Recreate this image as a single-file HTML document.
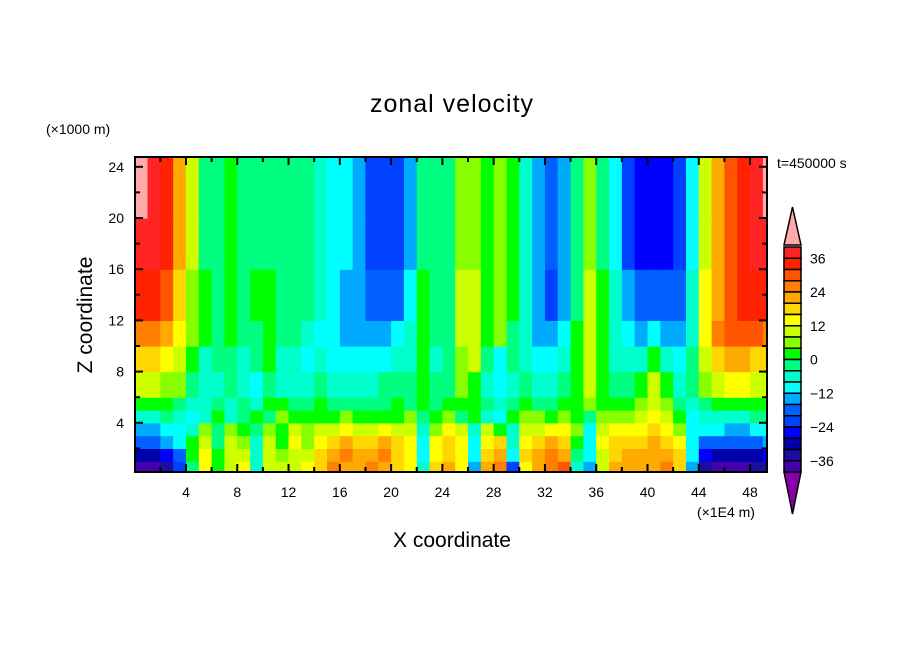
<!DOCTYPE html>
<html><head><meta charset="utf-8"><style>
body{margin:0;background:#fff}
svg text{font-family:"Liberation Sans",sans-serif;fill:#000}
</style></head><body>
<svg id="chart" width="904" height="654" viewBox="0 0 904 654" xmlns="http://www.w3.org/2000/svg">
<rect width="904" height="654" fill="#fff"/>
<defs><clipPath id="plotclip"><rect x="135" y="157" width="632" height="315"/></clipPath></defs>
<text x="452" y="112" font-size="25" text-anchor="middle" letter-spacing="1">zonal velocity</text>
<text x="46" y="134" font-size="14">(×1000 m)</text>
<text x="0" y="0" font-size="21" text-anchor="middle" transform="translate(92,315) rotate(-90)">Z coordinate</text>
<text x="452" y="547" font-size="21" text-anchor="middle">X coordinate</text>
<text x="697" y="517" font-size="14">(×1E4 m)</text>
<text x="777" y="168" font-size="14">t=450000 s</text>
<g id="cells" clip-path="url(#plotclip)"></g>
<g id="axes"></g>
<g id="cbar"></g>
</svg>
<script>
const zBounds = [0,1,2,3,4,5,6,8,10,12,16,20,25];
const row0 = [-38,-38,-34,-22,-2,14,2,10,14,-6,10,10,10,14,18,26,22,22,26,22,18,14,-6,18,22,14,-14,22,26,-22,14,22,26,30,-6,-14,10,22,22,22,22,26,18,-14,-34,-38,-38,-38,-34,-34];
const row1 = [-30,-30,-26,-18,2,14,2,10,10,-6,10,6,10,10,18,22,26,22,22,26,18,14,-10,14,18,14,-10,18,22,-10,18,22,26,22,-2,-10,10,18,22,22,22,22,18,-10,-26,-30,-30,-30,-30,-26];
const row2 = [-18,-18,-14,-10,2,10,-2,10,6,-6,10,2,14,6,14,18,22,18,18,22,18,14,-10,14,18,14,-10,14,18,-6,14,18,22,18,2,-10,14,18,18,18,22,18,14,-10,-18,-18,-18,-18,-18,-14];
const row3 = [-14,-14,-10,-10,-6,6,-2,6,2,-2,6,2,10,6,10,10,14,10,10,14,10,10,-6,6,14,10,-6,10,2,-6,10,10,14,14,6,-10,10,14,14,14,18,14,6,-10,-10,-10,-14,-14,-10,-10];
const row4 = [-6,-6,-2,-6,-10,-6,2,-6,-2,2,-2,6,2,2,2,2,6,2,2,2,2,6,-2,2,6,-2,2,-6,-10,2,6,6,2,6,2,-2,6,6,6,10,14,10,2,-10,-6,-6,-6,-6,-2,-2];
const row5 = [2,2,2,-2,-6,-6,-2,-6,-2,-6,2,2,-2,-2,2,-2,-2,-2,-2,-2,2,-2,2,-2,2,2,2,-2,-6,-2,2,-2,-2,2,2,6,2,2,2,6,10,6,-2,-6,-2,2,2,2,2,2];
const row6 = [10,10,6,6,-2,-6,-6,-2,-6,-10,-2,-6,-6,-6,-2,-6,-6,-6,-6,-2,-2,-2,2,-2,-2,6,2,-6,-10,-6,-2,-6,-6,-2,2,10,2,-2,-2,2,10,2,-6,-2,6,10,14,14,10,10];
const row7 = [18,18,14,10,2,-6,-2,-2,-6,-2,2,-6,-6,-10,-6,-10,-10,-10,-10,-10,-6,-6,2,-6,-2,6,10,-2,-10,-2,-6,-10,-10,-6,2,10,2,-6,-6,-6,2,-6,-10,-2,10,18,22,22,18,18];
const row8 = [26,26,22,14,6,2,-2,2,-2,-2,2,-2,-2,-6,-10,-10,-14,-14,-14,-14,-10,-6,2,-2,-2,10,10,2,6,-2,-6,-14,-14,-10,2,10,2,-6,-10,-14,-10,-14,-14,-6,14,26,30,30,30,26];
const row9 = [34,34,30,18,6,2,-2,2,-2,2,2,-2,-2,-2,-6,-10,-14,-14,-18,-18,-18,-10,2,-2,-2,10,10,2,6,2,-6,-14,-22,-14,-2,10,2,-6,-14,-18,-18,-18,-18,-6,14,22,30,34,34,34];
const row10 = [38,38,34,22,10,-2,-2,2,-2,-2,-2,-2,-2,-2,-6,-10,-10,-14,-22,-22,-22,-14,-2,-2,-2,6,6,2,6,2,-6,-14,-18,-14,-2,6,-2,-10,-22,-26,-26,-26,-22,-10,10,22,30,34,38,38];
const row11 = [42,38,34,22,10,-2,-2,2,-2,-2,-2,-2,-2,-2,-6,-10,-10,-14,-22,-22,-22,-14,-2,-2,-2,6,6,2,6,2,-6,-14,-18,-14,-2,6,-2,-10,-22,-26,-26,-26,-22,-10,10,22,30,34,38,42];
const rows = [row0,row1,row2,row3,row4,row5,row6,row7,row8,row9,row10,row11];
const levelLabels = [36,24,12,0,-12,-24,-36];
const xTickLabels = [4,8,12,16,20,24,28,32,36,40,44,48];
const yTickLabels = [4,8,12,16,20,24];
const bandColors = ["#ff2424","#ff2200","#ff5500","#ff7f00","#ffaa00","#ffd700","#ffff00","#ccff00","#88ff00","#00ff00","#00ff80","#00ffcc","#00ffff","#00aaff","#0060ff","#0040ff","#0000ff","#0000aa","#1c0ca0","#4400aa"];

const NS="http://www.w3.org/2000/svg";
function xs(v){return 134.7+12.82*v;}
function ys(z){return 474-12.8*z;}
function cbY(v){return 247+(40-v)/4*11.25;}
function colorOf(v){
  if(v>40)return "#ffaaaa";
  if(v<-40)return "#8800aa";
  let i=Math.floor((40-v)/4); if(i<0)i=0; if(i>19)i=19;
  return bandColors[i];
}
function mk(tag,attrs,parent){const e=document.createElementNS(NS,tag);for(const k in attrs)e.setAttribute(k,attrs[k]);parent.appendChild(e);return e;}
const cells=document.getElementById('cells');
rows.forEach((r,ri)=>{
  r.forEach((v,ci)=>{
    const x0=xs(ci),x1=xs(ci+1),y0=ys(zBounds[ri+1]),y1=ys(zBounds[ri]);
    const c=mk('rect',{x:x0,y:y0,width:x1-x0+0.6,height:y1-y0+0.6,fill:colorOf(v)},cells);
    
    
  });
});
const axes=document.getElementById('axes');
const frame=mk('rect',{x:135,y:157,width:632,height:315,fill:"none",stroke:"#000","stroke-width":2},axes);


for(let v=2;v<50;v+=2){
  const x=xs(v),len=(v%4===0)?8:5;
  if(x>767)continue;
  mk('line',{x1:x,y1:472,x2:x,y2:472-len,stroke:"#000","stroke-width":2},axes);
  mk('line',{x1:x,y1:157,x2:x,y2:157+len,stroke:"#000","stroke-width":2},axes);
}
for(let z=2;z<25;z+=2){
  const y=ys(z),len=(z%4===0)?8:5;
  mk('line',{x1:135,y1:y,x2:135+len,y2:y,stroke:"#000","stroke-width":2},axes);
  mk('line',{x1:767,y1:y,x2:767-len,y2:y,stroke:"#000","stroke-width":2},axes);
}
xTickLabels.forEach(v=>{
  const t=mk('text',{x:xs(v),y:497,"font-size":14,"text-anchor":"middle"},axes);t.textContent=v;
  
  
});
yTickLabels.forEach(v=>{
  const t=mk('text',{x:124,y:ys(v)+5,"font-size":14,"text-anchor":"end"},axes);t.textContent=v;
  
  
});
const cb=document.getElementById('cbar');
mk('polygon',{points:"784,245 801,245 792.5,207",fill:"#ffaaaa",stroke:"#000","stroke-width":1.5},cb);
mk('polygon',{points:"784,472 801,472 792.5,514",fill:"#8800aa",stroke:"#000","stroke-width":1.5},cb);
bandColors.forEach((c,i)=>{
  const v=40-4*i;
  const r=mk('rect',{x:784,y:cbY(v),width:17,height:11.25,fill:c,stroke:"#000","stroke-width":1.5},cb);
  
  
});
levelLabels.forEach(v=>{
  const t=mk('text',{x:810,y:cbY(v)+5,"font-size":14},cb);t.textContent=(v<0?"−"+(-v):v);
  
  
});
</script>
</body></html>
